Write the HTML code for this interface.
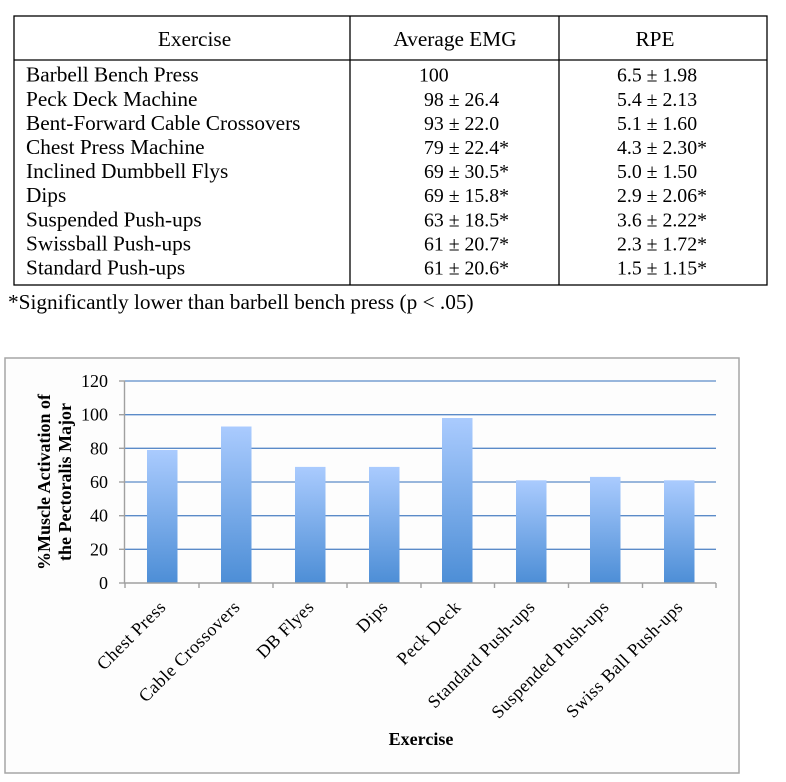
<!DOCTYPE html>
<html><head><meta charset="utf-8"><style>
html,body{margin:0;padding:0;background:#fff;}
svg{display:block;}
text{font-family:"Liberation Serif","DejaVu Serif",serif;}
</style></head><body>
<svg width="786" height="782" viewBox="0 0 786 782" xmlns="http://www.w3.org/2000/svg">
<defs>
<linearGradient id="g" x1="0" y1="0" x2="0" y2="1">
<stop offset="0" stop-color="#aacbfe"/>
<stop offset="1" stop-color="#4d8ed6"/>
</linearGradient>
</defs>
<rect width="786" height="782" fill="#fff"/>
<!-- Table -->
<g stroke="#000" stroke-width="1.3" fill="none">
<rect x="14" y="16" width="753" height="269"/>
<line x1="14" y1="60" x2="767" y2="60"/>
<line x1="350" y1="16" x2="350" y2="285"/>
<line x1="559" y1="16" x2="559" y2="285"/>
</g>
<g style="font-family:'Liberation Serif',serif;font-size:21.3px" fill="#000">
<text x="194.5" y="46" text-anchor="middle">Exercise</text>
<text x="455" y="46" text-anchor="middle">Average EMG</text>
<text x="655" y="46" text-anchor="middle">RPE</text>
<text x="26" y="81.7">Barbell Bench Press</text>
<text x="26" y="105.8">Peck Deck Machine</text>
<text x="26" y="129.9">Bent-Forward Cable Crossovers</text>
<text x="26" y="154">Chest Press Machine</text>
<text x="26" y="178.1">Inclined Dumbbell Flys</text>
<text x="26" y="202.2">Dips</text>
<text x="26" y="226.3">Suspended Push-ups</text>
<text x="26" y="250.4">Swissball Push-ups</text>
<text x="26" y="274.5">Standard Push-ups</text>
</g>
<g style="font-family:'Liberation Serif',serif;font-size:19.8px" fill="#000">
<text x="419" y="81.7">100</text>
<text x="424" y="105.8">98 ± 26.4</text>
<text x="424" y="129.9">93 ± 22.0</text>
<text x="424" y="154">79 ± 22.4*</text>
<text x="424" y="178.1">69 ± 30.5*</text>
<text x="424" y="202.2">69 ± 15.8*</text>
<text x="424" y="226.3">63 ± 18.5*</text>
<text x="424" y="250.4">61 ± 20.7*</text>
<text x="424" y="274.5">61 ± 20.6*</text>
<text x="617" y="81.7">6.5 ± 1.98</text>
<text x="617" y="105.8">5.4 ± 2.13</text>
<text x="617" y="129.9">5.1 ± 1.60</text>
<text x="617" y="154">4.3 ± 2.30*</text>
<text x="617" y="178.1">5.0 ± 1.50</text>
<text x="617" y="202.2">2.9 ± 2.06*</text>
<text x="617" y="226.3">3.6 ± 2.22*</text>
<text x="617" y="250.4">2.3 ± 1.72*</text>
<text x="617" y="274.5">1.5 ± 1.15*</text>
</g>
<text x="8" y="309" style="font-family:'Liberation Serif',serif;font-size:21.3px" fill="#000">*Significantly lower than barbell bench press (p &lt; .05)</text>

<!-- Chart -->
<rect x="5" y="358" width="734" height="415" fill="#fdfdfd" stroke="#a6a6a6" stroke-width="1.5"/>
<g stroke="#5b8bc8" stroke-width="1.3">
<line x1="125" y1="381" x2="716" y2="381"/>
<line x1="125" y1="414.7" x2="716" y2="414.7"/>
<line x1="125" y1="448.3" x2="716" y2="448.3"/>
<line x1="125" y1="482" x2="716" y2="482"/>
<line x1="125" y1="515.7" x2="716" y2="515.7"/>
<line x1="125" y1="549.3" x2="716" y2="549.3"/>
</g>
<g fill="url(#g)">
<rect x="147" y="450.0" width="30.5" height="133"/>
<rect x="221" y="426.5" width="30.5" height="156.5"/>
<rect x="295" y="466.9" width="30.5" height="116.1"/>
<rect x="369" y="466.9" width="30.5" height="116.1"/>
<rect x="442" y="418.0" width="30.5" height="165"/>
<rect x="516" y="480.3" width="30.5" height="102.7"/>
<rect x="590" y="476.9" width="30.5" height="106.1"/>
<rect x="664" y="480.3" width="30.5" height="102.7"/>
</g>
<g stroke="#a0a0a0" stroke-width="1.4">
<line x1="124.5" y1="381" x2="124.5" y2="583"/>
<line x1="124" y1="583" x2="716" y2="583"/>
<line x1="119" y1="381" x2="125" y2="381"/>
<line x1="119" y1="414.7" x2="125" y2="414.7"/>
<line x1="119" y1="448.3" x2="125" y2="448.3"/>
<line x1="119" y1="482" x2="125" y2="482"/>
<line x1="119" y1="515.7" x2="125" y2="515.7"/>
<line x1="119" y1="549.3" x2="125" y2="549.3"/>
<line x1="119" y1="583" x2="125" y2="583"/>
<line x1="125" y1="583" x2="125" y2="588"/>
<line x1="199" y1="583" x2="199" y2="588"/>
<line x1="273" y1="583" x2="273" y2="588"/>
<line x1="347" y1="583" x2="347" y2="588"/>
<line x1="421" y1="583" x2="421" y2="588"/>
<line x1="494.5" y1="583" x2="494.5" y2="588"/>
<line x1="568.5" y1="583" x2="568.5" y2="588"/>
<line x1="642.5" y1="583" x2="642.5" y2="588"/>
<line x1="716" y1="583" x2="716" y2="588"/>
</g>
<g style="font-family:'Liberation Serif',serif;font-size:18px" fill="#000" text-anchor="end">
<text x="108" y="387">120</text>
<text x="108" y="420.7">100</text>
<text x="108" y="454.3">80</text>
<text x="108" y="488">60</text>
<text x="108" y="521.7">40</text>
<text x="108" y="555.3">20</text>
<text x="108" y="589">0</text>
</g>
<g style="font-family:'Liberation Serif',serif;font-size:18px;letter-spacing:0.5px" fill="#000" text-anchor="end">
<text transform="translate(167,608) rotate(-45)">Chest Press</text>
<text transform="translate(241,608) rotate(-45)">Cable Crossovers</text>
<text transform="translate(315,608) rotate(-45)">DB Flyes</text>
<text transform="translate(389,608) rotate(-45)">Dips</text>
<text transform="translate(462,608) rotate(-45)">Peck Deck</text>
<text transform="translate(536,608) rotate(-45)">Standard Push-ups</text>
<text transform="translate(610,608) rotate(-45)">Suspended Push-ups</text>
<text transform="translate(684,608) rotate(-45)">Swiss Ball Push-ups</text>
</g>
<g style="font-family:'Liberation Serif',serif;font-size:18px;font-weight:bold" fill="#000" text-anchor="middle">
<text transform="translate(50,482) rotate(-90)">%Muscle Activation of</text>
<text transform="translate(71,482) rotate(-90)">the Pectoralis Major</text>
<text x="421" y="745">Exercise</text>
</g>
</svg>
</body></html>
